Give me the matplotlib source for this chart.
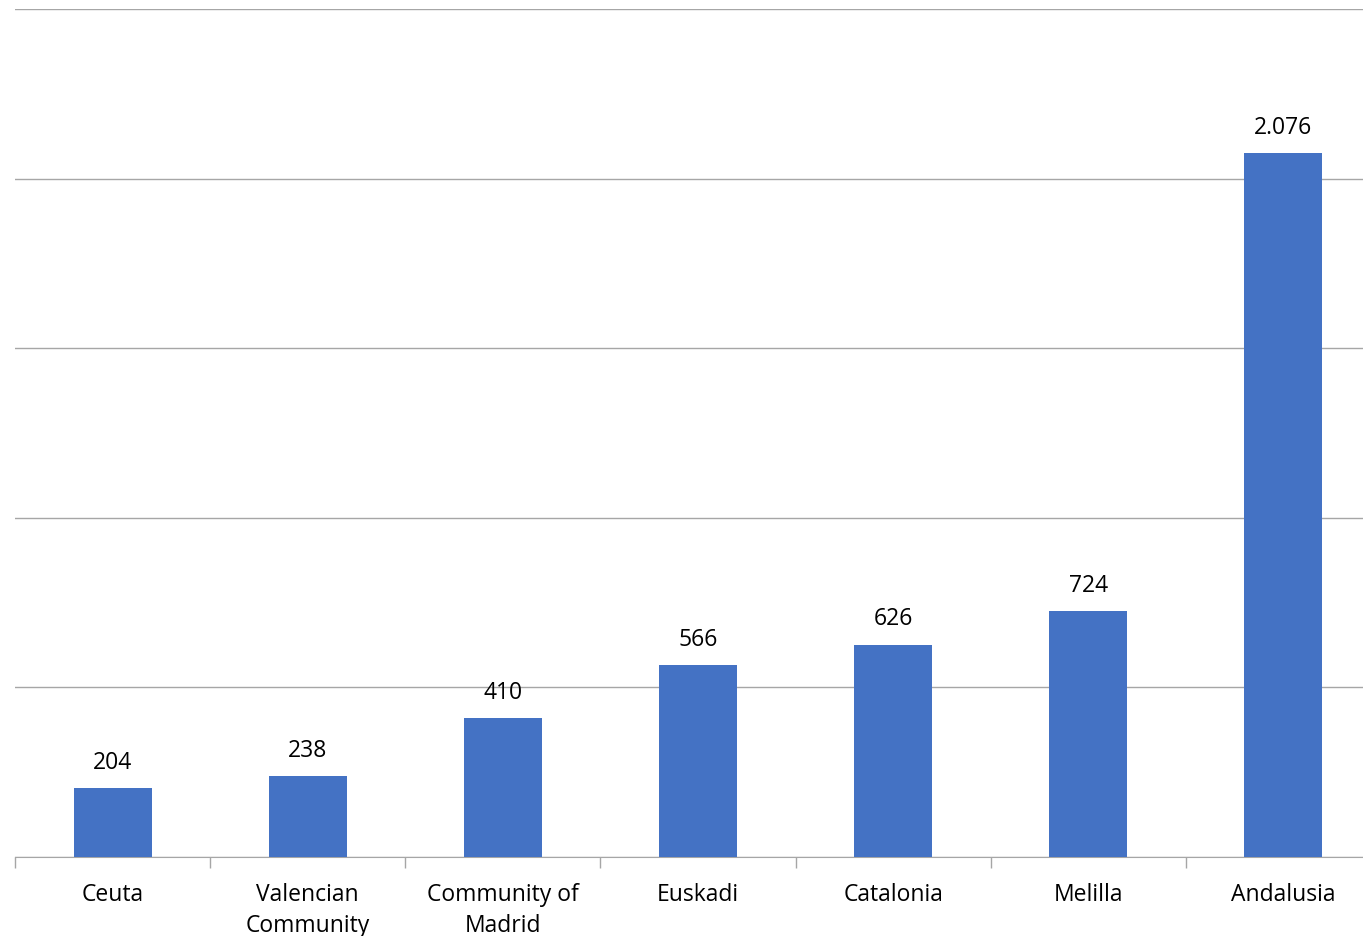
import numpy as np
import matplotlib.pyplot as plt

# data
regions = ["Ceuta", "Valencian\nCommunity", "Community of\nMadrid", "Euskadi",
           "Catalonia", "Melilla", "Andalusia"]
values = [204, 238, 410, 566, 626, 724, 2076]
bar_color = "#4472C4"
grid_color = "#A6A6A6"

plt.rcParams['font.family'] = ['Open Sans', 'DejaVu Sans']

fig = plt.figure(figsize=(13.63, 9.37), dpi=100)
# plot area runs a little past the right edge of the image, as in the reference
ax = fig.add_axes([15/1363, (937-858)/937, 1366/1363, (858-10)/937])

x = np.arange(len(values))
bars = ax.bar(x, values, width=0.4, color=bar_color, zorder=3)

for b, v in zip(bars, values):
    lab = f"{v:,}".replace(",", ".")
    ax.text(b.get_x() + b.get_width()/2, v + 42, lab, ha="center", va="bottom",
            fontsize=16.5, color="black")

ax.set_xlim(-0.5, len(values) - 0.5)
ax.set_ylim(0, 2500)
ax.set_yticks(np.arange(0, 2501, 500))
ax.yaxis.grid(True, color=grid_color, linewidth=1)
ax.set_axisbelow(True)
ax.tick_params(axis="y", left=False, labelleft=False)

ax.set_xticks(x)
ax.set_xticklabels(regions, fontsize=16.5, linespacing=1.4)
ax.tick_params(axis="x", which="major", length=0, pad=18)
ax.set_xticks(np.arange(-0.5, len(values), 1), minor=True)
ax.tick_params(axis="x", which="minor", length=8, color=grid_color, width=1)

for s in ["left", "right", "top"]:
    ax.spines[s].set_visible(False)
ax.spines["bottom"].set_color(grid_color)

fig.savefig("out.png", dpi=100)
